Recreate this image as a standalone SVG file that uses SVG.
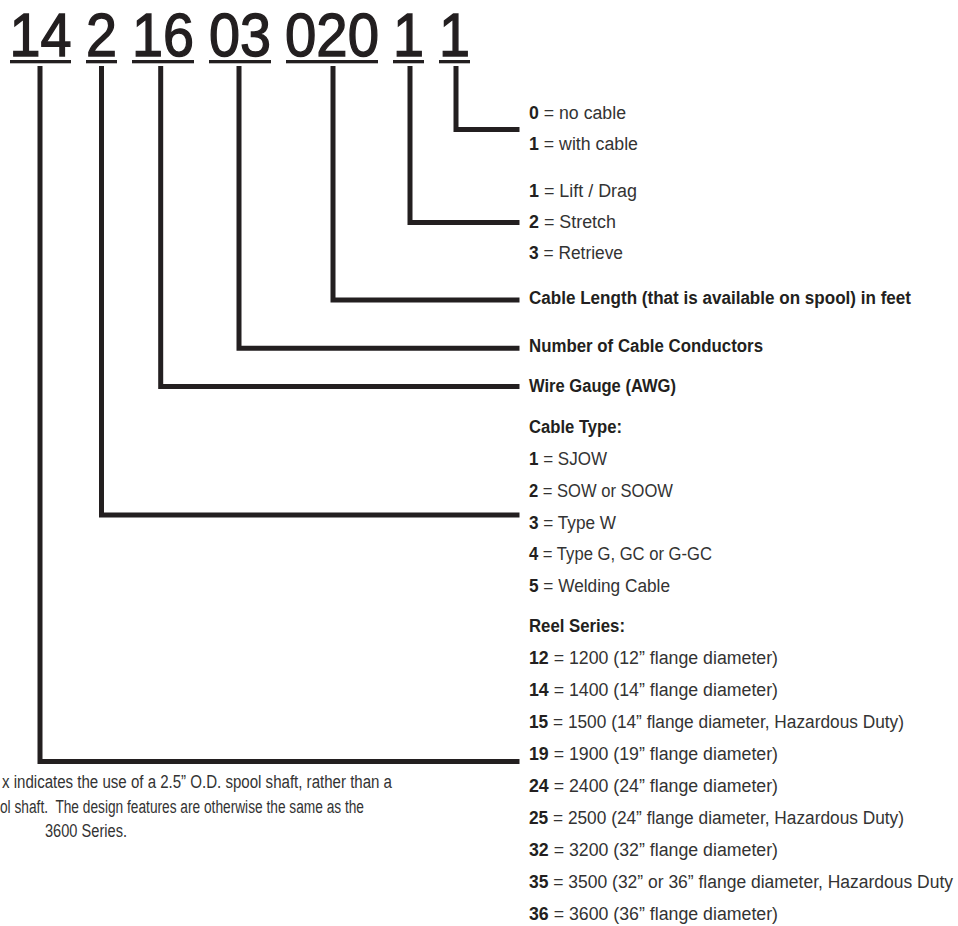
<svg xmlns="http://www.w3.org/2000/svg" width="958" height="926" viewBox="0 0 958 926">
<style>
  .code { font-family: "Liberation Sans", Arial, sans-serif; font-size: 62px; fill: #231f20; stroke: #231f20; stroke-width: 1.4px; text-anchor: middle; }
  .t { font-family: "Liberation Sans", Arial, sans-serif; font-size: 18px; fill: #333333; }
  .h { font-family: "Liberation Sans", Arial, sans-serif; font-size: 18px; fill: #231f20; font-weight: bold; }
  .b { font-weight: bold; fill: #231f20; }
  .p { font-family: "Liberation Sans", Arial, sans-serif; font-size: 18px; fill: #333333; white-space: pre; }
  .ul { fill: #231f20; }
  .conn { fill: none; stroke: #231f20; stroke-width: 5; stroke-linejoin: miter; stroke-linecap: butt; }
</style>
<rect width="958" height="926" fill="#ffffff"/>

<g id="code">
  <g id="seg-series"><text class="code" x="40.5" y="56.2" textLength="62" lengthAdjust="spacingAndGlyphs">14</text><rect class="ul" x="10" y="60" width="61" height="3.3"/></g>
  <g id="seg-cabletype"><text class="code" x="101.5" y="56.2" textLength="31" lengthAdjust="spacingAndGlyphs">2</text><rect class="ul" x="86" y="60" width="31" height="3.3"/></g>
  <g id="seg-gauge"><text class="code" x="163" y="56.2" textLength="62" lengthAdjust="spacingAndGlyphs">16</text><rect class="ul" x="132" y="60" width="62" height="3.3"/></g>
  <g id="seg-conductors"><text class="code" x="240" y="56.2" textLength="62" lengthAdjust="spacingAndGlyphs">03</text><rect class="ul" x="209" y="60" width="62" height="3.3"/></g>
  <g id="seg-length"><text class="code" x="332" y="56.2" textLength="94" lengthAdjust="spacingAndGlyphs">020</text><rect class="ul" x="286" y="60" width="92" height="3.3"/></g>
  <g id="seg-function"><text class="code" x="408.5" y="56.2" textLength="31" lengthAdjust="spacingAndGlyphs">1</text><rect class="ul" x="393" y="60" width="31" height="3.3"/></g>
  <g id="seg-cable"><text class="code" x="454.5" y="56.2" textLength="31" lengthAdjust="spacingAndGlyphs">1</text><rect class="ul" x="439" y="60" width="31" height="3.3"/></g>
</g>

<g id="connectors">
  <path class="conn" d="M456,66 V129.5 H519.5"/>
  <path class="conn" d="M410,66 V222.5 H519.5"/>
  <path class="conn" d="M333,66 V300 H519.5"/>
  <path class="conn" d="M239,66 V348.3 H519.5"/>
  <path class="conn" d="M160.7,66 V386.5 H519.5"/>
  <path class="conn" d="M101.5,66 V515 H519.5"/>
  <path class="conn" d="M40,66 V761.5 H519.5"/>
</g>

<g id="cable-option">
  <text class="t" x="529" y="118.5" textLength="97" lengthAdjust="spacingAndGlyphs"><tspan class="b">0</tspan> = no cable</text>
  <text class="t" x="529" y="150" textLength="109" lengthAdjust="spacingAndGlyphs"><tspan class="b">1</tspan> = with cable</text>
</g>

<g id="function-option">
  <text class="t" x="529" y="197" textLength="108" lengthAdjust="spacingAndGlyphs"><tspan class="b">1</tspan> = Lift / Drag</text>
  <text class="t" x="529" y="228" textLength="87" lengthAdjust="spacingAndGlyphs"><tspan class="b">2</tspan> = Stretch</text>
  <text class="t" x="529" y="259" textLength="94" lengthAdjust="spacingAndGlyphs"><tspan class="b">3</tspan> = Retrieve</text>
</g>

<g id="length-label">
  <text class="h" x="529" y="303.5" textLength="382" lengthAdjust="spacingAndGlyphs">Cable Length (that is available on spool) in feet</text>
</g>

<g id="conductors-label">
  <text class="h" x="529" y="351.5" textLength="234" lengthAdjust="spacingAndGlyphs">Number of Cable Conductors</text>
</g>

<g id="gauge-label">
  <text class="h" x="529" y="391.5" textLength="147" lengthAdjust="spacingAndGlyphs">Wire Gauge (AWG)</text>
</g>

<g id="cabletype-option">
  <text class="h" x="529" y="433" textLength="93" lengthAdjust="spacingAndGlyphs">Cable Type:</text>
  <text class="t" x="529" y="464.5" textLength="78" lengthAdjust="spacingAndGlyphs"><tspan class="b">1</tspan> = SJOW</text>
  <text class="t" x="529" y="496.5" textLength="144" lengthAdjust="spacingAndGlyphs"><tspan class="b">2</tspan> = SOW or SOOW</text>
  <text class="t" x="529" y="528.5" textLength="87" lengthAdjust="spacingAndGlyphs"><tspan class="b">3</tspan> = Type W</text>
  <text class="t" x="529" y="560" textLength="183" lengthAdjust="spacingAndGlyphs"><tspan class="b">4</tspan> = Type G, GC or G-GC</text>
  <text class="t" x="529" y="592" textLength="141" lengthAdjust="spacingAndGlyphs"><tspan class="b">5</tspan> = Welding Cable</text>
</g>

<g id="series-option">
  <text class="h" x="529" y="632" textLength="96" lengthAdjust="spacingAndGlyphs">Reel Series:</text>
  <text class="t" x="529" y="663.5" textLength="249" lengthAdjust="spacingAndGlyphs"><tspan class="b">12</tspan> = 1200 (12” flange diameter)</text>
  <text class="t" x="529" y="695.5" textLength="249" lengthAdjust="spacingAndGlyphs"><tspan class="b">14</tspan> = 1400 (14” flange diameter)</text>
  <text class="t" x="529" y="727.5" textLength="375" lengthAdjust="spacingAndGlyphs"><tspan class="b">15</tspan> = 1500 (14” flange diameter, Hazardous Duty)</text>
  <text class="t" x="529" y="759.5" textLength="249" lengthAdjust="spacingAndGlyphs"><tspan class="b">19</tspan> = 1900 (19” flange diameter)</text>
  <text class="t" x="529" y="791.5" textLength="249" lengthAdjust="spacingAndGlyphs"><tspan class="b">24</tspan> = 2400 (24” flange diameter)</text>
  <text class="t" x="529" y="823.5" textLength="375" lengthAdjust="spacingAndGlyphs"><tspan class="b">25</tspan> = 2500 (24” flange diameter, Hazardous Duty)</text>
  <text class="t" x="529" y="855.5" textLength="249" lengthAdjust="spacingAndGlyphs"><tspan class="b">32</tspan> = 3200 (32” flange diameter)</text>
  <text class="t" x="529" y="887.5" textLength="424" lengthAdjust="spacingAndGlyphs"><tspan class="b">35</tspan> = 3500 (32” or 36” flange diameter, Hazardous Duty</text>
  <text class="t" x="529" y="919.5" textLength="249" lengthAdjust="spacingAndGlyphs"><tspan class="b">36</tspan> = 3600 (36” flange diameter)</text>
</g>

<g id="note">
  <text class="p" x="2" y="788" textLength="390" lengthAdjust="spacingAndGlyphs">x indicates the use of a 2.5” O.D. spool shaft, rather than a</text>
  <text class="p" x="0" y="812.5" textLength="364" lengthAdjust="spacingAndGlyphs">ol shaft.  The design features are otherwise the same as the</text>
  <text class="p" x="45" y="837" textLength="82" lengthAdjust="spacingAndGlyphs">3600 Series.</text>
</g>
</svg>
